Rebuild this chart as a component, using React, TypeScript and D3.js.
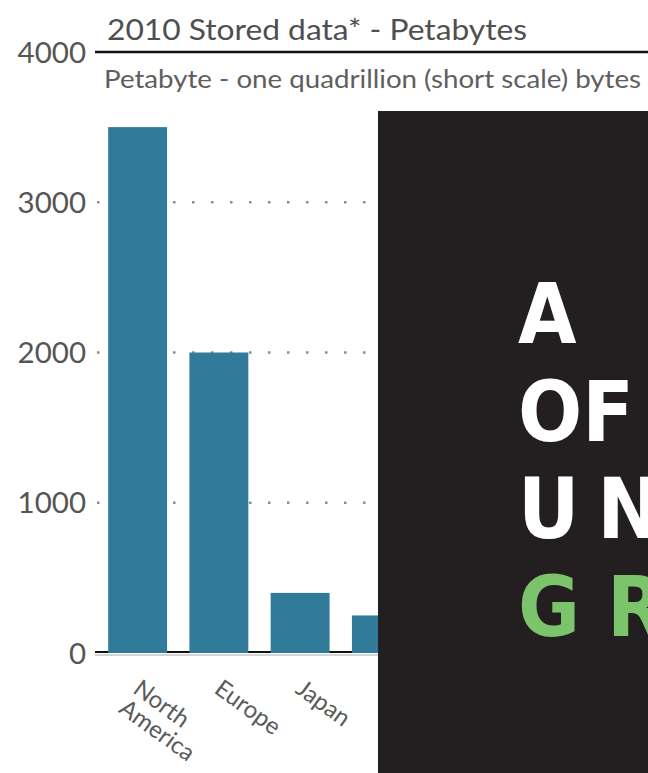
import React from "react";
import * as d3 from "d3";

// Stored data by region, 2010 (petabytes)
const categories = ["North America", "Europe", "Japan", "China"];
const values = [3500, 2000, 400, 250];
const yTicks = [0, 1000, 2000, 3000, 4000];
const gridTicks = [1000, 2000, 3000];

const title = "2010 Stored data* - Petabytes";
const subtitle = "Petabyte - one quadrillion (short scale) bytes";

// Cover panel lettering
const coverLines = ["A", "OF", "UN", "GR"];
const coverColors = ["#ffffff", "#ffffff", "#ffffff", "#7cc46c"];
const coverSpacing = [0, 0, 18, 27];

const W = 648;
const H = 773;
const FONT = "Lato, 'Open Sans', sans-serif";

export default function App() {
  const x = d3
    .scaleBand<string>()
    .domain(categories)
    .range([97, 422])
    .paddingInner(0.275)
    .paddingOuter(0.1375);

  const y = d3.scaleLinear().domain([0, 4000]).range([653, 52]);

  const panel = { x: 378, y: 111 };

  return (
    <svg
      width={W}
      height={H}
      style={{ position: "absolute", left: 0, top: 0, background: "#fff" }}
    >
      <defs>
        <clipPath id="panel-clip">
          <rect x={panel.x} y={panel.y} width={W - panel.x} height={H - panel.y} />
        </clipPath>
      </defs>

      {/* horizontal dotted grid */}
      {gridTicks.map((t) => (
        <line
          key={t}
          x1={97}
          x2={W}
          y1={y(t)}
          y2={y(t)}
          stroke="#8c8c8c"
          strokeWidth={2.5}
          strokeDasharray="2.5 16.5"
        />
      ))}

      {/* baseline */}
      <line x1={95} x2={W} y1={y(0) - 1} y2={y(0) - 1} stroke="#111" strokeWidth={2.2} />

      {/* bars */}
      {categories.map((c, i) => (
        <rect
          key={c}
          x={x(c)}
          y={y(values[i])}
          width={x.bandwidth()}
          height={y(0) - y(values[i])}
          fill="#317a9a"
        />
      ))}
      <line x1={95} x2={W} y1={y(0) + 2} y2={y(0) + 2} stroke="#c4c4c4" strokeWidth={1.5} />

      {/* top rule at 4000 */}
      <line x1={95} x2={W} y1={y(4000)} y2={y(4000)} stroke="#111" strokeWidth={2.6} />

      {/* y tick labels */}
      {yTicks.map((t) => (
        <text
          key={t}
          x={86}
          y={y(t) + 10.5}
          textAnchor="end"
          fontFamily={FONT}
          fontSize={29.5}
          fill="#555"
        >
          {t}
        </text>
      ))}

      {/* title + subtitle */}
      <text
        x={107}
        y={40}
        fontFamily={FONT}
        fontSize={28}
        textLength={420}
        lengthAdjust="spacingAndGlyphs"
        fill="#4f4f4f"
      >
        {title}
      </text>
      <text
        x={104}
        y={88}
        fontFamily={FONT}
        fontSize={25}
        textLength={537}
        lengthAdjust="spacingAndGlyphs"
        fill="#5e5e5e"
      >
        {subtitle}
      </text>

      {/* rotated category labels */}
      {categories.map((c) => {
        const cx = (x(c) as number) + x.bandwidth() / 2;
        const words = c.split(" ");
        return (
          <text
            key={c}
            transform={`translate(${cx - 6},${692}) rotate(36)`}
            fontFamily={FONT}
            fontSize={24}
            fill="#5a5a5a"
          >
            {words.map((w, j) => (
              <tspan key={j} x={0} dy={j === 0 ? 0 : 24}>
                {w}
              </tspan>
            ))}
          </text>
        );
      })}

      {/* cover panel */}
      <rect x={panel.x} y={panel.y} width={W - panel.x} height={H - panel.y} fill="#231f20" />
      <g clipPath="url(#panel-clip)">
        {coverLines.map((l, i) => (
          <text
            key={l}
            x={518}
            y={343 + i * 97.5}
            fontFamily="'DejaVu Sans Condensed', 'DejaVu Sans', sans-serif"
            fontWeight="bold"
            fontSize={84}
            letterSpacing={coverSpacing[i]}
            fill={coverColors[i]}
          >
            {l}
          </text>
        ))}
      </g>
    </svg>
  );
}
